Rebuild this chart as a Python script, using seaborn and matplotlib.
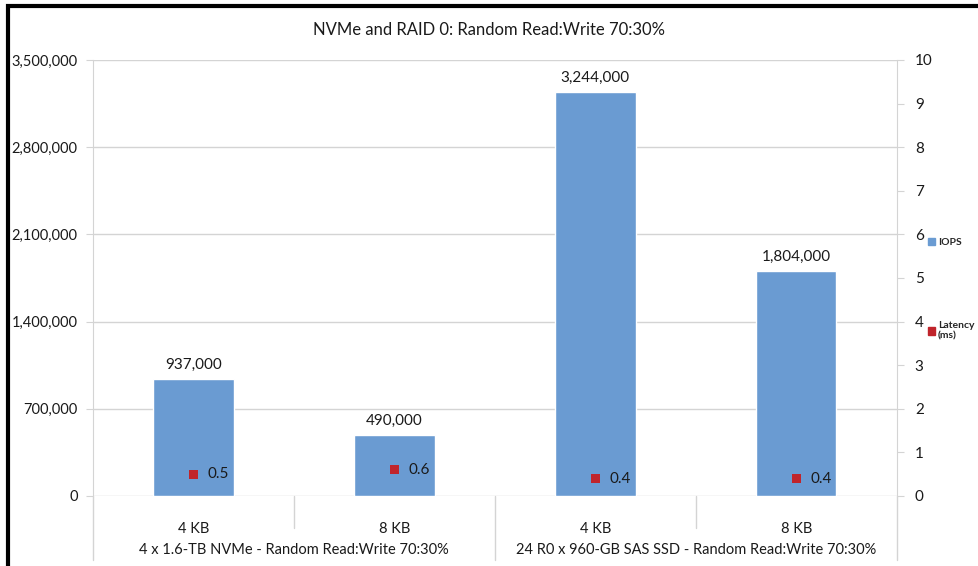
import pandas as pd
import matplotlib.pyplot as plt
import matplotlib.patches as mpatches
import seaborn as sns

# data
block_sizes = ['4 KB', '8 KB', '4 KB', '8 KB']
groups = ['4 x 1.6-TB NVMe - Random Read:Write 70:30%',
          '24 R0 x 960-GB SAS SSD - Random Read:Write 70:30%']
iops = [937000, 490000, 3244000, 1804000]
latency = [0.5, 0.6, 0.4, 0.4]

df = pd.DataFrame({
    'key': ['g0_4', 'g0_8', 'g1_4', 'g1_8'],
    'pos': [0, 1, 2, 3],
    'IOPS': iops,
    'Latency': latency,
})

sns.set_style('white')
plt.rcParams['font.family'] = ['Lato', 'DejaVu Sans']

bar_col = '#6A9BD2'
red_col = '#C0242B'
grid_col = '#D4D4D4'
txt_col = '#1A1A1A'

fig = plt.figure(figsize=(9.79, 5.66), dpi=100)
ax = fig.add_axes([0.095, 0.1237, 0.821, 0.7703])

sns.barplot(data=df, x='key', y='IOPS', color=bar_col, width=0.4,
            saturation=1, ax=ax, zorder=3)
ax.set_xlim(-0.5, 3.5)
ax.set_ylim(0, 3500000)
ax.set_yticks(range(0, 3500001, 700000))
ax.set_yticklabels([f'{v:,}' for v in range(0, 3500001, 700000)],
                   fontsize=10.5, color=txt_col)
ax.yaxis.grid(True, color=grid_col, linewidth=1, zorder=0)
ax.set_axisbelow(True)
for s in ['top', 'right', 'bottom']:
    ax.spines[s].set_visible(False)
ax.spines['left'].set_color(grid_col)
ax.tick_params(axis='y', length=5, color=grid_col, pad=6, left=True)
ax.set_xlabel('')
ax.set_ylabel('')

ax.set_xticks(range(4))
ax.set_xticklabels(block_sizes, fontsize=10.5, color=txt_col)
ax.tick_params(axis='x', length=0, pad=19)

for p, v in zip(df['pos'], iops):
    ax.text(p, v + 60000, f'{v:,}', ha='center', va='bottom',
            fontsize=11, color=txt_col)

# category dividers
xt = ax.get_xaxis_transform()
for x in [0.5, 2.5]:
    ax.plot([x, x], [0, -0.074], color=grid_col, lw=1, transform=xt, clip_on=False)
for x in [-0.5, 1.5, 3.5]:
    ax.plot([x, x], [0, -0.147], color=grid_col, lw=1, transform=xt, clip_on=False)
for gx, g in zip([0.5, 2.5], groups):
    ax.text(gx, -0.124, g, ha='center', va='center', fontsize=10.5,
            color=txt_col, transform=xt)

# latency on secondary axis
ax2 = ax.twinx()
sns.scatterplot(data=df, x='pos', y='Latency', marker='s', s=42,
                color=red_col, edgecolor='none', ax=ax2, zorder=4, legend=False)
ax2.set_ylim(0, 10)
ax2.set_yticks(range(0, 11))
ax2.set_yticklabels([str(v) for v in range(0, 11)], fontsize=11, color=txt_col)
ax2.tick_params(axis='y', length=5, color=grid_col, pad=8, right=True)
for s in ['top', 'left', 'bottom']:
    ax2.spines[s].set_visible(False)
ax2.spines['right'].set_color(grid_col)
ax2.set_xlabel('')
ax2.set_ylabel('')
ax2.set_xlim(-0.5, 3.5)
for p, v in zip(df['pos'], latency):
    ax2.text(p + 0.07, v, str(v), ha='left', va='center', fontsize=11, color=txt_col)

fig.text(0.5, 0.947, 'NVMe and RAID 0: Random Read:Write 70:30%',
         ha='center', va='center', fontsize=12, color=txt_col)

# legend on the right
h1 = mpatches.Patch(color=bar_col, label='IOPS')
fig.legend(handles=[h1], loc='center left', bbox_to_anchor=(0.938, 0.571),
           frameon=False, handlelength=0.7, handleheight=0.7,
           handletextpad=0.3, prop={'weight': 'bold', 'size': 7.5})
h2 = mpatches.Patch(color=red_col, label='Latency\n(ms)')
fig.legend(handles=[h2], loc='center left', bbox_to_anchor=(0.938, 0.415),
           frameon=False, handlelength=0.7, handleheight=0.7,
           handletextpad=0.3, prop={'weight': 'bold', 'size': 7.5})

# black frame like the source screenshot
fig.add_artist(plt.Rectangle((0.008, -0.05), 1.1, 1.04, transform=fig.transFigure,
                             fill=False, edgecolor='black', lw=3))

fig.savefig('out.png', dpi=100)
